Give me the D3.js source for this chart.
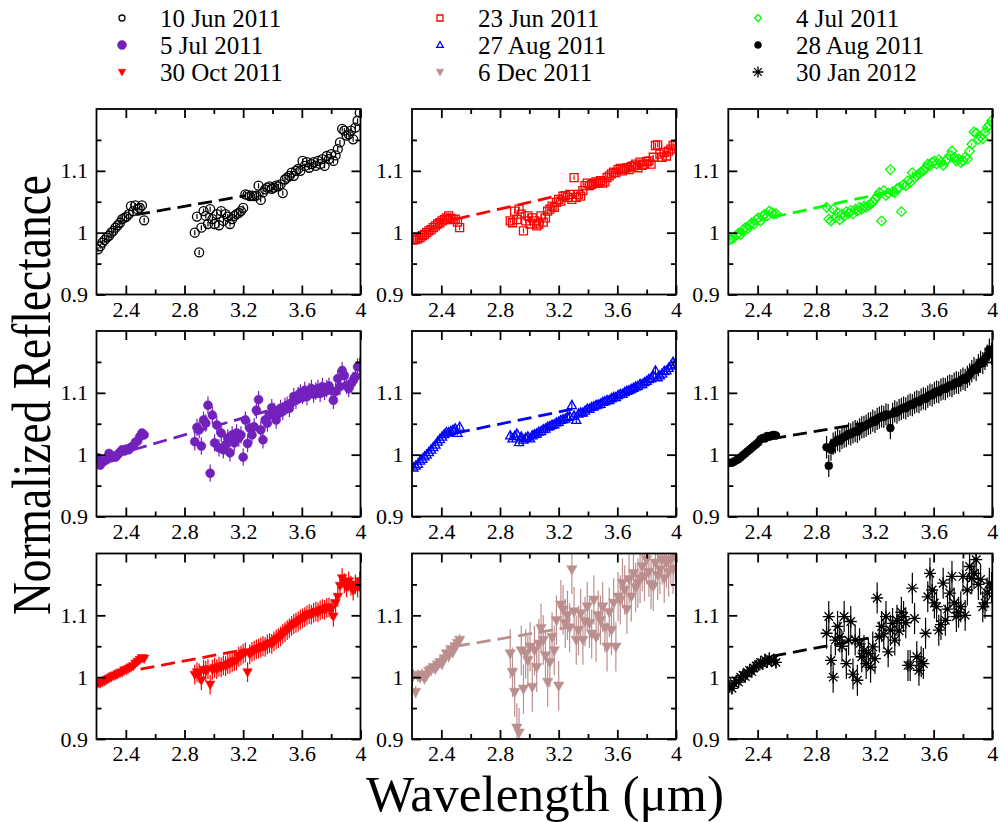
<!DOCTYPE html>
<html>
<head>
<meta charset="utf-8">
<script src="https://cdn.jsdelivr.net/npm/d3@7"></script>
<style>
  body { margin: 0; background: #fff; }
  svg text { font-family: "Liberation Serif", "Times New Roman", serif !important; }
</style>
</head>
<body>
<div class="container"></div>
<script>
// wavelength grids (um): short-wavelength piece and long-wavelength piece
const wlA = [2.21, 2.225, 2.24, 2.255, 2.27, 2.285, 2.30, 2.315, 2.33, 2.345, 2.36,
             2.375, 2.39, 2.405, 2.42, 2.435, 2.45, 2.465, 2.48, 2.495, 2.51, 2.525]
const wlB = [2.87, 2.885, 2.90, 2.915, 2.93, 2.945, 2.96, 2.975, 2.99, 3.005, 3.02, 3.035, 3.05, 3.065, 3.08, 3.095, 3.11, 3.125, 3.14,
             3.155, 3.17, 3.185, 3.20, 3.215, 3.23, 3.245, 3.26, 3.275, 3.29, 3.305, 3.32, 3.335, 3.35, 3.365, 3.38, 3.395, 3.41, 3.425,
             3.44, 3.455, 3.47, 3.485, 3.50, 3.515, 3.53, 3.545, 3.56, 3.575, 3.59, 3.605, 3.62, 3.635, 3.65, 3.665, 3.68, 3.695, 3.71,
             3.725, 3.74, 3.755, 3.77, 3.785, 3.80, 3.815, 3.83, 3.845, 3.86, 3.875, 3.89, 3.905, 3.92, 3.935, 3.95, 3.965, 3.98, 3.995]

// normalized reflectance per date
const r10JunA = [0.973,0.978,0.984,0.988,0.992,0.995,1.0,1.003,1.008,1.012,1.016, 1.022,1.024,1.026,1.03,1.043,1.035,1.044,1.038,1.04,1.044,1.02]
const r10JunB = [1.0,1.026,0.968,1.008,1.035,1.027,1.014,1.038,1.022,1.014,1.03,1.012,1.035,1.019,1.03,1.026,1.014,1.022,1.027,
                 1.03,1.032,1.035,1.04,1.062,1.061,1.059,1.06,1.059,1.06,1.076,1.053,1.065,1.07,1.073,1.075,1.071,1.073,1.076,
                 1.075,1.078,1.064,1.086,1.089,1.092,1.097,1.092,1.1,1.103,1.1,1.116,1.108,1.114,1.105,1.111,1.114,1.108,1.116,
                 1.111,1.119,1.108,1.124,1.119,1.127,1.116,1.125,1.135,1.146,1.168,1.165,1.157,1.159,1.165,1.151,1.17,1.181,1.194]

const r23JunA = [0.988,0.989,0.99,0.992,0.995,0.997,1.0,1.003,1.005,1.008,1.011, 1.014,1.016,1.019,1.021,1.024,1.027,1.023,1.021,1.022,1.017,1.008]
const r23JunB = [1.019,1.016,1.035,1.021,1.038,1.03,1.003,1.019,1.027,1.014,1.024,1.019,1.011,1.014,1.027,1.017,1.024,1.035,1.038,
                 1.043,1.041,1.049,1.054,1.051,1.059,1.06,1.057,1.062,1.054,1.089,1.057,1.062,1.059,1.068,1.076,1.08,1.076,1.078,
                 1.08,1.082,1.08,1.084,1.08,1.082,1.089,1.092,1.095,1.098,1.097,1.102,1.104,1.1,1.103,1.105,1.102,1.107,1.108,
                 1.111,1.105,1.114,1.109,1.111,1.115,1.116,1.111,1.122,1.141,1.142,1.127,1.122,1.13,1.124,1.132,1.135,1.141,1.141]

const r4JulA = [0.989,0.99,0.992,0.996,0.999,0.997,1.004,1.008,1.006,1.012,1.016, 1.014,1.021,1.024,1.019,1.027,1.03,1.027,1.035,1.032,1.03,1.031]
const r4JulB = [1.041,1.022,1.019,1.038,1.024,1.032,1.021,1.03,1.027,1.034,1.031,1.036,1.03,1.038,1.035,1.041,1.038,1.043,1.041,
                1.044,1.046,1.049,1.054,1.059,1.065,1.019,1.068,1.06,1.064,1.102,1.066,1.065,1.071,1.073,1.034,1.078,1.076,1.084,
                1.081,1.097,1.089,1.092,1.095,1.098,1.1,1.105,1.111,1.108,1.114,1.116,1.111,1.118,1.114,1.109,1.116,1.119,1.125,
                1.132,1.122,1.116,1.119,1.114,1.116,1.122,1.119,1.132,1.143,1.163,1.161,1.151,1.155,1.152,1.162,1.17,1.174,1.181]

const r5JulA = [0.995,0.983,0.988,0.99,0.992,1.002,0.995,0.998,0.996,1.0,1.004, 1.008,1.006,1.009,1.008,1.012,1.014,1.02,1.022,1.029,1.035,1.032]
const r5JulB = [1.021,1.044,1.04,1.014,1.056,1.051,1.08,0.97,1.064,1.019,1.048,1.011,1.035,1.008,1.016,1.027,1.003,1.032,1.019,
                1.035,1.027,1.032,0.996,1.056,1.018,1.043,1.032,1.045,1.072,1.089,1.04,1.024,1.056,1.051,1.064,1.076,1.07,1.056,
                1.066,1.075,1.07,1.078,1.08,1.075,1.084,1.094,1.088,1.096,1.1,1.096,1.104,1.094,1.102,1.107,1.098,1.103,1.107,
                1.099,1.11,1.102,1.107,1.111,1.104,1.088,1.102,1.123,1.11,1.136,1.128,1.112,1.107,1.115,1.12,1.126,1.142,1.143]

const r27AugA = [0.979,0.982,0.985,0.99,0.993,0.997,1.0,1.004,1.008,1.012,1.016, 1.021,1.025,1.029,1.033,1.036,1.036,1.038,1.04,1.042,1.035,1.045]
const r27AugB = [1.031,1.026,1.03,1.034,1.02,1.029,1.024,1.027,1.029,1.026,1.031,1.033,1.034,1.037,1.038,1.041,1.042,1.045,1.046,
                 1.048,1.049,1.052,1.053,1.056,1.057,1.058,1.061,1.062,1.08,1.063,1.056,1.066,1.068,1.068,1.071,1.074,1.074,1.077,
                 1.078,1.08,1.081,1.082,1.085,1.086,1.088,1.088,1.091,1.093,1.093,1.096,1.098,1.098,1.101,1.103,1.104,1.106,1.108,
                 1.11,1.111,1.114,1.114,1.117,1.119,1.122,1.123,1.128,1.136,1.125,1.128,1.131,1.135,1.136,1.14,1.144,1.15,1.146]

const r28AugA = [0.987,0.987,0.989,0.991,0.993,0.996,0.999,1.002,1.005,1.008,1.011, 1.014,1.017,1.02,1.025,1.027,1.026,1.03,1.029,1.031,1.032,1.031]
const r28AugB = [1.012,0.982,1.008,1.018,1.02,1.024,1.022,1.027,1.029,1.03,1.034,1.033,1.036,1.038,1.037,1.041,1.044,1.045,1.047,
                 1.05,1.051,1.055,1.053,1.058,1.06,1.062,1.061,1.065,1.064,1.043,1.066,1.07,1.068,1.072,1.074,1.076,1.075,1.079,
                 1.081,1.08,1.084,1.086,1.085,1.089,1.091,1.09,1.094,1.097,1.096,1.1,1.102,1.101,1.105,1.107,1.106,1.11,1.112,
                 1.111,1.115,1.117,1.116,1.12,1.123,1.121,1.126,1.13,1.135,1.14,1.137,1.145,1.15,1.148,1.155,1.16,1.17,1.163]

const r30OctA = [0.99,0.99,0.992,0.994,0.996,0.998,1.0,1.002,1.003,1.005,1.007, 1.008,1.011,1.012,1.014,1.016,1.018,1.022,1.025,1.028,1.031,1.03]
const r30OctB = [1.004,1.008,1.006,0.995,1.012,1.01,1.013,0.988,1.012,1.015,1.013,1.017,1.016,1.019,1.018,1.021,1.022,1.024,1.026,
                 1.027,1.033,1.035,1.038,1.04,1.008,1.037,1.041,1.043,1.045,1.046,1.048,1.05,1.049,1.053,1.055,1.054,1.058,1.061,
                 1.063,1.066,1.07,1.073,1.076,1.079,1.083,1.086,1.088,1.09,1.093,1.095,1.097,1.1,1.102,1.101,1.104,1.106,1.105,
                 1.108,1.11,1.109,1.112,1.113,1.11,1.098,1.12,1.13,1.148,1.16,1.152,1.145,1.155,1.148,1.14,1.15,1.145,1.155]

const r6DecA = [1.003,0.976,1.002,1.0,1.004,0.998,1.003,1.01,1.012,1.016,1.014, 1.02,1.024,1.022,1.03,1.038,1.034,1.045,1.041,1.05,1.055,1.06]
const r6DecB = [1.038,1.008,0.976,0.918,0.91,1.043,0.981,1.038,1.027,1.049,0.984,1.043,1.016,1.054,1.079,1.06,1.035,0.992,1.024,
                1.065,1.043,1.092,0.986,1.117,1.109,1.087,1.1,1.08,1.174,1.106,1.06,1.076,1.103,1.06,1.09,1.114,1.087,1.07,
                1.125,1.065,1.1,1.092,1.114,1.08,1.049,1.105,1.076,1.12,1.049,1.13,1.125,1.152,1.141,1.11,1.158,1.13,1.168,
                1.145,1.152,1.16,1.179,1.163,1.19,1.17,1.15,1.147,1.185,1.165,1.174,1.19,1.16,1.185,1.17,1.19,1.175,1.195]

const r30JanA = [0.985,0.982,0.99,0.994,0.992,1.0,1.003,1.001,1.008,1.011,1.009, 1.015,1.018,1.02,1.024,1.022,1.028,1.025,1.03,1.026,1.028,1.024]
const r30JanB = [1.071,1.098,1.027,1.0,1.06,1.082,1.065,1.05,1.098,1.022,1.06,1.09,1.005,1.06,0.995,1.054,1.033,1.043,1.022,
                 1.038,1.016,1.049,1.03,1.128,1.065,1.082,1.07,1.098,1.041,1.076,1.087,1.06,1.092,1.075,1.105,1.098,1.088,1.019,
                 1.019,1.144,1.095,1.033,1.011,1.025,1.022,1.071,1.13,1.168,1.141,1.12,1.114,1.076,1.085,1.152,1.092,1.11,1.136,
                 1.163,1.12,1.098,1.105,1.114,1.163,1.1,1.141,1.179,1.16,1.168,1.19,1.15,1.158,1.114,1.12,1.136,1.152,1.145]

const dates = ["10 Jun 2011", "23 Jun 2011", "4 Jul 2011",
               "5 Jul 2011", "27 Aug 2011", "28 Aug 2011",
               "30 Oct 2011", "6 Dec 2011", "30 Jan 2012"]

// 1-sigma error per piece, per date
const errA = [0.004, 0.004, 0.002, 0.006, 0.004, 0.004, 0.005, 0.01, 0.01]
const errB = [0.004, 0.004, 0.002, 0.014, 0.006, 0.018, 0.016, 0.04, 0.025]

// linear continuum (dashed) end points
const contX0 = [2.47, 2.5, 2.5, 2.45, 2.5, 2.5, 2.5, 2.5, 2.5]
const contY0 = [1.029, 1.022, 1.025, 1.008, 1.035, 1.026, 1.013, 1.05, 1.034]
const contX1 = [3.22, 3.2, 3.3, 3.85, 3.3, 3.2, 3.22, 3.3, 3.22]
const contY1 = [1.06, 1.06, 1.066, 1.104, 1.074, 1.054, 1.045, 1.082, 1.066]

const xTicks = [2.4, 2.8, 3.2, 3.6, 4]
const xMinor = [2.6, 3.0, 3.4, 3.8]
const yTicks = [0.9, 1, 1.1]
const yMinor = [0.95, 1.05, 1.15]

const seriesA = [r10JunA, r23JunA, r4JulA, r5JulA, r27AugA, r28AugA, r30OctA, r6DecA, r30JanA]
const seriesB = [r10JunB, r23JunB, r4JulB, r5JulB, r27AugB, r28AugB, r30OctB, r6DecB, r30JanB]

// ---- layout / style ----
const width = 1000, height = 822
const W = 264, H = 185.5
const colLeft = [96.5, 412, 728.3]
const rowTop = [109, 331, 553.5]
const serif = '"Liberation Serif", "Times New Roman", serif'

const styles = [
  {kind: "circle",  fill: false, color: "#000000", r: 4.5, lr: 3},
  {kind: "square",  fill: false, color: "#ff0000", r: 4,   lr: 3},
  {kind: "diamond", fill: false, color: "#00ff00", r: 4.8, lr: 3.5},
  {kind: "circle",  fill: true,  color: "#7221bc", r: 4.5, lr: 4.5},
  {kind: "tri",     fill: false, color: "#0000ff", r: 4.8, lr: 3.5},
  {kind: "circle",  fill: true,  color: "#000000", r: 4,   lr: 3.5},
  {kind: "tridown", fill: true,  color: "#ff0000", r: 5,   lr: 4},
  {kind: "tridown", fill: true,  color: "#bc8f8f", r: 5.5, lr: 4},
  {kind: "star",    fill: false, color: "#000000", r: 6,   lr: 5.5}
]

function symPath(kind, r) {
  const d = r * 0.707
  switch (kind) {
    case "circle": return d3.symbol(d3.symbolCircle, Math.PI * r * r)()
    case "square": return `M${-r},${-r}H${r}V${r}H${-r}Z`
    case "diamond": return `M0,${-r}L${r},0L0,${r}L${-r},0Z`
    case "tri": return `M0,${-r}L${r * 0.95},${r * 0.7}L${-r * 0.95},${r * 0.7}Z`
    case "tridown": return `M0,${r}L${r * 0.95},${-r * 0.7}L${-r * 0.95},${-r * 0.7}Z`
    case "star": return `M0,${-r}V${r}M${-r},0H${r}M${-d},${-d}L${d},${d}M${-d},${d}L${d},${-d}`
  }
}

function paintMarker(sel, st, r) {
  sel.attr("d", symPath(st.kind, r))
    .attr("fill", st.fill ? st.color : "none")
    .attr("stroke", st.color)
    .attr("stroke-width", st.fill ? 0.5 : 1.3)
}

const svg = d3.select(".container").append("svg").attr("width", width).attr("height", height)
  .attr("font-family", serif)

seriesA.forEach((ya, i) => {
  const st = styles[i]
  const col = i % 3, row = Math.floor(i / 3)
  const g = svg.append("g").attr("transform", `translate(${colLeft[col]},${rowTop[row]})`)

  const x = d3.scaleLinear().domain([2.2, 4.0]).range([0, W])
  const y = d3.scaleLinear().domain([0.9, 1.2]).range([H, 0])

  svg.append("clipPath").attr("id", "clip" + i)
    .append("rect").attr("width", W).attr("height", H)

  const pts = wlA.map((w, j) => ({w: w, r: ya[j], e: errA[i]}))
    .concat(wlB.map((w, j) => ({w: w, r: seriesB[i][j], e: errB[i]})))

  const plot = g.append("g").attr("clip-path", `url(#clip${i})`)

  // dashed continuum
  plot.append("line")
    .attr("x1", x(contX0[i])).attr("y1", y(contY0[i]))
    .attr("x2", x(contX1[i])).attr("y2", y(contY1[i]))
    .attr("stroke", st.color).attr("stroke-width", 2.8)
    .attr("stroke-dasharray", "14,7")

  // error bars
  plot.selectAll("line.err").data(pts).join("line").attr("class", "err")
    .attr("x1", d => x(d.w)).attr("x2", d => x(d.w))
    .attr("y1", d => y(d.r - d.e)).attr("y2", d => y(d.r + d.e))
    .attr("stroke", st.color).attr("stroke-width", 1.2)

  // markers
  plot.selectAll("path.pt").data(pts).join("path").attr("class", "pt")
    .attr("transform", d => `translate(${x(d.w)},${y(d.r)})`)
    .call(paintMarker, st, st.r)

  // frame
  g.append("rect").attr("width", W).attr("height", H)
    .attr("fill", "none").attr("stroke", "#000").attr("stroke-width", 1.8)

  const fmt = d3.format("~g")
  const axes = [
    {a: d3.axisBottom(x).tickValues(xTicks).tickSize(-9).tickPadding(6.5).tickFormat(fmt), t: `translate(0,${H})`},
    {a: d3.axisBottom(x).tickValues(xMinor).tickSize(-5).tickFormat(""), t: `translate(0,${H})`},
    {a: d3.axisTop(x).tickValues(xTicks).tickSize(-9).tickFormat(""), t: "translate(0,0)"},
    {a: d3.axisTop(x).tickValues(xMinor).tickSize(-5).tickFormat(""), t: "translate(0,0)"},
    {a: d3.axisLeft(y).tickValues(yTicks).tickSize(-9).tickPadding(8.5).tickFormat(fmt), t: "translate(0,0)"},
    {a: d3.axisLeft(y).tickValues(yMinor).tickSize(-5).tickFormat(""), t: "translate(0,0)"},
    {a: d3.axisRight(y).tickValues(yTicks).tickSize(-9).tickFormat(""), t: `translate(${W},0)`},
    {a: d3.axisRight(y).tickValues(yMinor).tickSize(-5).tickFormat(""), t: `translate(${W},0)`}
  ]
  axes.forEach(ax => {
    const ag = g.append("g").attr("transform", ax.t).call(ax.a)
      .attr("font-family", serif).attr("font-size", 22)
    ag.select(".domain").remove()
    ag.selectAll("line").attr("stroke-width", 1.8)
    ag.selectAll("text").attr("fill", "#000").attr("font-family", serif)
  })
})

// legend
const legX = [122, 440, 758]
const legY = [18, 45, 72]
dates.forEach((d, i) => {
  const lx = legX[i % 3], ly = legY[Math.floor(i / 3)]
  svg.append("path").attr("transform", `translate(${lx},${ly})`).call(paintMarker, styles[i], styles[i].lr)
  svg.append("text").attr("x", lx + 38).attr("y", ly).attr("dy", "0.35em")
    .attr("font-family", serif).attr("font-size", 25).text(d)
})

// axis titles
svg.append("text")
  .attr("x", 545).attr("y", 811)
  .attr("text-anchor", "middle").attr("font-family", serif).attr("font-size", 50)
  .attr("textLength", 358).attr("lengthAdjust", "spacingAndGlyphs")
  .text("Wavelength (μm)")

svg.append("text")
  .attr("transform", "translate(50,395) rotate(-90)")
  .attr("text-anchor", "middle").attr("font-family", serif).attr("font-size", 55)
  .attr("textLength", 440).attr("lengthAdjust", "spacingAndGlyphs")
  .text("Normalized Reflectance")
</script>
</body>
</html>
